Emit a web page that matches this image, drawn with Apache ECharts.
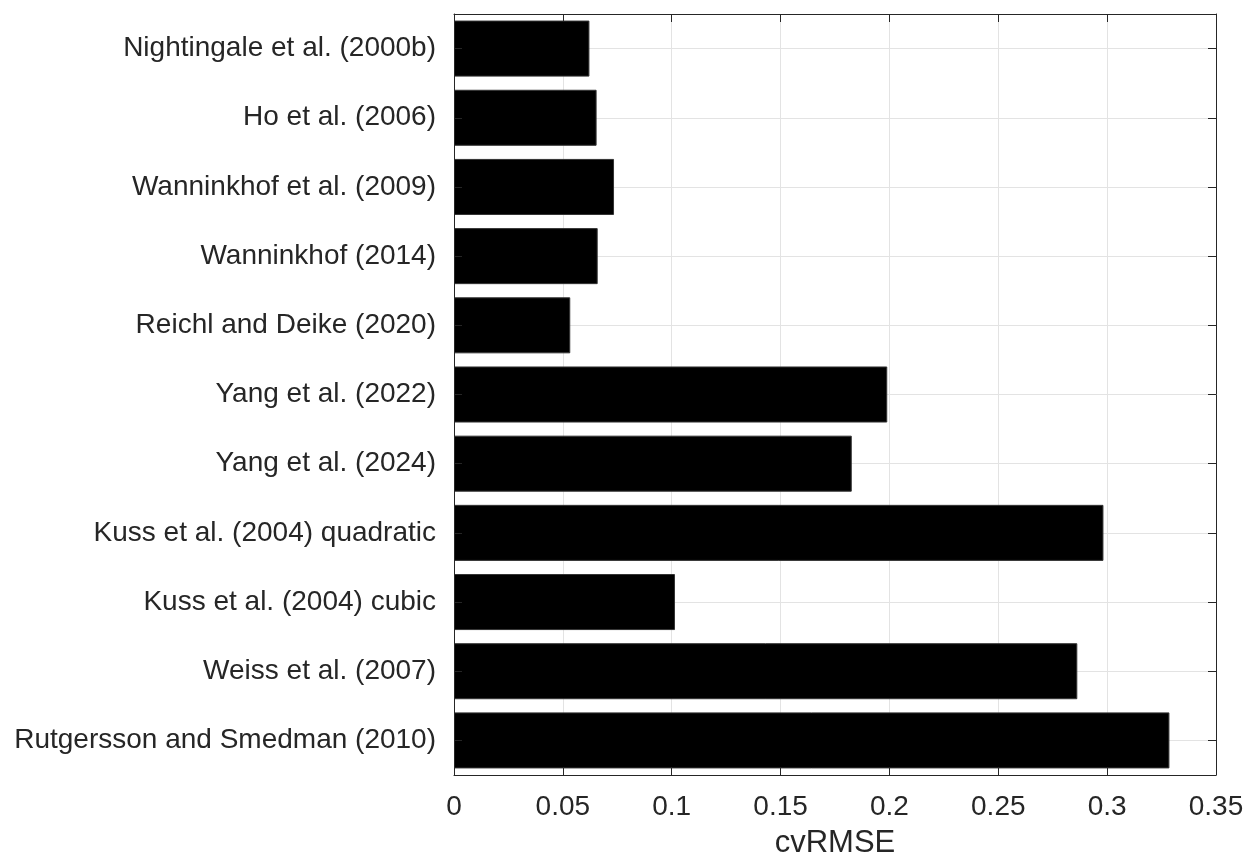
<!DOCTYPE html>
<html>
<head>
<meta charset="utf-8">
<script src="https://cdn.jsdelivr.net/npm/echarts@6/dist/echarts.min.js"></script>
<style>
html, body { margin: 0; padding: 0; background: #fff; }
#chart { width: 1247px; height: 858px; }
</style>
</head>
<body>
<div id="chart"></div>
<script>
// Parameterisations compared, top to bottom
const categories = [
  'Nightingale et al. (2000b)',
  'Ho et al. (2006)',
  'Wanninkhof et al. (2009)',
  'Wanninkhof (2014)',
  'Reichl and Deike (2020)',
  'Yang et al. (2022)',
  'Yang et al. (2024)',
  'Kuss et al. (2004) quadratic',
  'Kuss et al. (2004) cubic',
  'Weiss et al. (2007)',
  'Rutgersson and Smedman (2010)'
];
// Coefficient of variation of the RMSE for each parameterisation
const cvRMSE = [0.0622, 0.0655, 0.0735, 0.0660, 0.0534, 0.1990, 0.1827, 0.2983, 0.1015, 0.2863, 0.3286];
const xTicks = [0, 0.05, 0.1, 0.15, 0.2, 0.25, 0.3, 0.35];

const FONT = 'Liberation Sans, Helvetica, Arial, sans-serif';
const INK = '#262626';
const GRID = '#e3e3e3';
const TICK_LEN = 8;

const chart = echarts.init(document.getElementById('chart'));
chart.setOption({
  animation: false,
  grid: {
    left: 454, top: 14, width: 762, height: 761,
    containLabel: false, outerBoundsMode: 'none'
  },
  xAxis: [
    {
      // bottom axis: labels, name and inward ticks, drawn above the bars
      type: 'value', min: 0, max: 0.35, interval: 0.05, position: 'bottom', z: 10,
      name: 'cvRMSE', nameLocation: 'middle', nameGap: 53,
      nameTextStyle: { fontFamily: FONT, fontSize: 31, color: INK },
      axisLine: { show: true, onZero: false, lineStyle: { color: INK, width: 1 } },
      axisTick: { show: true, inside: true, length: TICK_LEN, lineStyle: { color: INK } },
      axisLabel: {
        fontFamily: FONT, fontSize: 28, color: INK, margin: 18,
        formatter: v => { const t = xTicks.find(x => Math.abs(x - v) < 1e-9); return t === undefined ? '' : String(t); }
      },
      splitLine: { show: false }
    },
    {
      // top edge of the box, carrying the vertical grid lines behind the bars
      type: 'value', min: 0, max: 0.35, interval: 0.05, position: 'top', z: 0,
      axisLine: { show: true, onZero: false, lineStyle: { color: INK, width: 1 } },
      axisTick: { show: true, inside: true, length: TICK_LEN, lineStyle: { color: INK } },
      axisLabel: { show: false },
      splitLine: { show: true, lineStyle: { color: GRID, width: 1 } }
    }
  ],
  yAxis: [
    {
      // left axis: category labels and inward ticks, drawn above the bars
      type: 'category', data: categories, inverse: true, position: 'left', z: 10,
      axisLine: { show: true, onZero: false, lineStyle: { color: INK, width: 1 } },
      axisTick: { show: true, inside: true, length: TICK_LEN, alignWithLabel: true, lineStyle: { color: INK } },
      axisLabel: { fontFamily: FONT, fontSize: 28, color: INK, margin: 18 },
      splitLine: { show: false }
    },
    {
      // right edge of the box, carrying the horizontal grid lines behind the bars
      type: 'category', data: categories, inverse: true, position: 'right', z: 0,
      axisLine: { show: true, onZero: false, lineStyle: { color: INK, width: 1 } },
      axisTick: { show: true, inside: true, length: TICK_LEN, alignWithLabel: true, lineStyle: { color: INK } },
      axisLabel: { show: false },
      splitLine: { show: true, alignWithLabel: true, lineStyle: { color: GRID, width: 1 } }
    }
  ],
  series: [
    {
      type: 'bar',
      xAxisIndex: 0, yAxisIndex: 0,
      data: cvRMSE,
      barWidth: '81%',
      z: 2,
      itemStyle: { color: '#000', borderColor: '#333', borderWidth: 1 }
    }
  ]
});
</script>
</body>
</html>
